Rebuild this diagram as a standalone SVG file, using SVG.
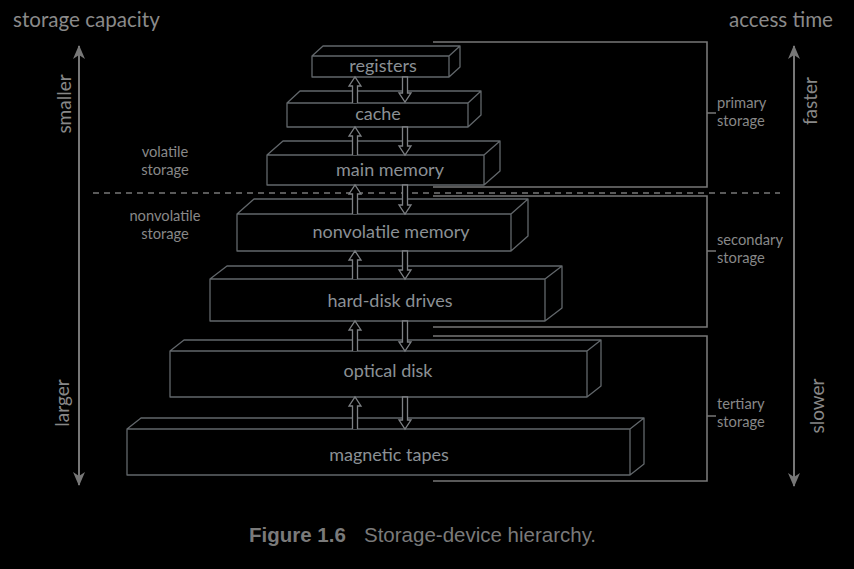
<svg xmlns="http://www.w3.org/2000/svg" width="854" height="569" viewBox="0 0 854 569">
<defs>
<marker id="ah" viewBox="0 0 14 12" refX="13" refY="6" markerWidth="14" markerHeight="12" markerUnits="userSpaceOnUse" orient="auto-start-reverse">
<path d="M0,0 L14,6 L0,12 L4,6 Z" fill="#777"/>
</marker>
</defs>
<style>
text{font-family:Lato,"Open Sans","DejaVu Sans",sans-serif}
.box{fill:#000;stroke:#62676b;stroke-width:1.3;stroke-linejoin:round}
.lbl{fill:#8b9095;font-size:18px;text-anchor:middle}
.arr{fill:#000;stroke:#7d8084;stroke-width:1.3}
.br{fill:none;stroke:#777;stroke-width:1.6}
.sm{fill:#888;font-size:14.7px}
.ax{stroke:#777;stroke-width:2;fill:none}
.big{fill:#8a8a8a;font-size:20.6px}
.rot{fill:#888;font-size:19px;text-anchor:middle}
.cap{font-family:"Liberation Sans",Arial,sans-serif;fill:#7a7a7a;font-size:20.5px}
</style>
<rect width="854" height="569" fill="#000"/>

<text class="big" x="13" y="27">storage capacity</text>
<text class="big" x="833" y="27" text-anchor="end">access time</text>

<g id="axes">
<line class="ax" x1="79" y1="408" x2="79" y2="46" marker-end="url(#ah)"/>
<line class="ax" x1="79" y1="408" x2="79" y2="485" marker-end="url(#ah)"/>
<line class="ax" x1="794" y1="410" x2="794" y2="46" marker-end="url(#ah)"/>
<line class="ax" x1="794" y1="410" x2="794" y2="486" marker-end="url(#ah)"/>
<text class="rot" transform="translate(71,104) rotate(-90)">smaller</text>
<text class="rot" transform="translate(69,403) rotate(-90)">larger</text>
<text class="rot" transform="translate(817,101) rotate(-90)">faster</text>
<text class="rot" transform="translate(824,406) rotate(-90)">slower</text>
</g>

<line x1="93" y1="193" x2="780" y2="193" stroke="#777" stroke-width="1.3" stroke-dasharray="6,5"/>

<text class="sm" x="165" y="157" text-anchor="middle">volatile</text>
<text class="sm" x="165" y="175" text-anchor="middle">storage</text>
<text class="sm" x="165" y="221" text-anchor="middle">nonvolatile</text>
<text class="sm" x="165" y="239" text-anchor="middle">storage</text>

<g id="brackets">
<path class="br" d="M433,42 H707 V187 H433 M707,113 H716"/>
<path class="br" d="M433,196 H707 V327 H433 M707,251 H716"/>
<path class="br" d="M433,336 H707 V481 H433 M707,416 H716"/>
<text class="sm" x="717" y="108">primary</text>
<text class="sm" x="717" y="126">storage</text>
<text class="sm" x="717" y="245">secondary</text>
<text class="sm" x="717" y="263">storage</text>
<text class="sm" x="717" y="409">tertiary</text>
<text class="sm" x="717" y="427">storage</text>
</g>

<g id="registers">
<path class="box" d="M312,56 H449 V77 H312 Z M312,56 l11,-10 H460 l-11,10 M460,46 V67 l-11,10"/>
<text class="lbl" x="383" y="72">registers</text>
</g>
<g id="cache">
<path class="box" d="M287,103 H468 V127 H287 Z M287,103 l13,-12 H481 l-13,12 M481,91 V115 l-13,12"/>
<text class="lbl" x="378" y="120">cache</text>
</g>
<g id="main-memory">
<path class="box" d="M267,155 H484 V185 H267 Z M267,155 l16,-14 H500 l-16,14 M500,141 V171 l-16,14"/>
<text class="lbl" x="390" y="176">main memory</text>
</g>
<g id="nonvolatile-memory">
<path class="box" d="M237,214 H511 V251 H237 Z M237,214 l17,-15 H528 l-17,15 M528,199 V236 l-17,15"/>
<text class="lbl" x="391" y="238">nonvolatile memory</text>
</g>
<g id="hard-disk-drives">
<path class="box" d="M210,279 H545 V321 H210 Z M210,279 l17,-13 H562 l-17,13 M562,266 V308 l-17,13"/>
<text class="lbl" x="390" y="307">hard-disk drives</text>
</g>
<g id="optical-disk">
<path class="box" d="M170,351 H587 V397 H170 Z M170,351 l14,-11 H601 l-14,11 M601,340 V386 l-14,11"/>
<text class="lbl" x="388" y="377">optical disk</text>
</g>
<g id="magnetic-tapes">
<path class="box" d="M127,429 H630 V475 H127 Z M127,429 l14,-11 H644 l-14,11 M644,418 V464 l-14,11"/>
<text class="lbl" x="389" y="461">magnetic tapes</text>
</g>

<g id="connectors">
<path class="arr" d="M352.5,103 V86 H349 L355,77 L361,86 H357.5 V103"/>
<path class="arr" d="M402.5,77 V93 H399 L405,102 L411,93 H407.5 V77 Z"/>
<path class="arr" d="M352.5,155 V136 H349 L355,127 L361,136 H357.5 V155"/>
<path class="arr" d="M402.5,127 V146 H399 L405,155 L411,146 H407.5 V127 Z"/>
<path class="arr" d="M352.5,214 V194 H349 L355,185 L361,194 H357.5 V214"/>
<path class="arr" d="M402.5,185 V205 H399 L405,214 L411,205 H407.5 V185 Z"/>
<path class="arr" d="M352.5,279 V260 H349 L355,251 L361,260 H357.5 V279"/>
<path class="arr" d="M402.5,251 V270 H399 L405,279 L411,270 H407.5 V251 Z"/>
<path class="arr" d="M352.5,351 V330 H349 L355,321 L361,330 H357.5 V351"/>
<path class="arr" d="M402.5,321 V342 H399 L405,351 L411,342 H407.5 V321 Z"/>
<path class="arr" d="M352.5,429 V406 H349 L355,397 L361,406 H357.5 V429"/>
<path class="arr" d="M402.5,397 V420 H399 L405,429 L411,420 H407.5 V397 Z"/>
</g>

<text class="cap" x="249" y="542"><tspan font-weight="bold">Figure 1.6</tspan><tspan x="364">Storage-device hierarchy.</tspan></text>
</svg>
